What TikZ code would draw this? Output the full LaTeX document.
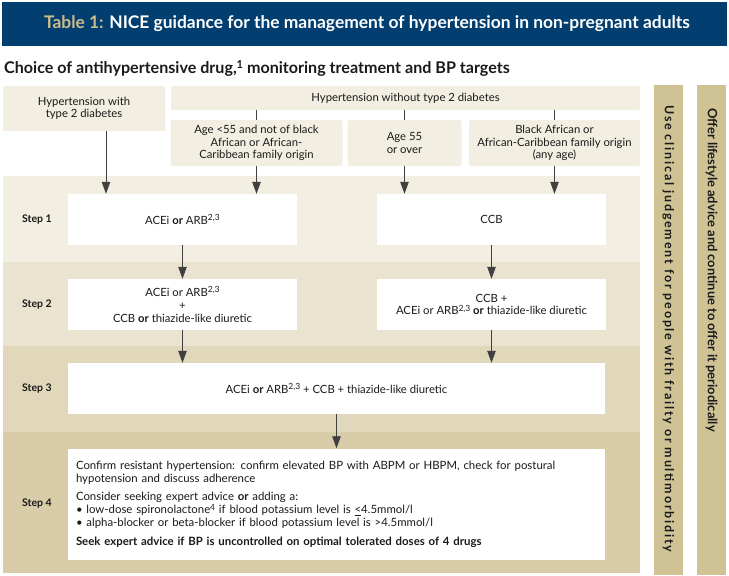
\documentclass[tikz,border=0pt]{standalone}
\usepackage{fontspec}
\setmainfont{Lato}
\usetikzlibrary{arrows.meta}
\definecolor{navy}{HTML}{023E6F}
\definecolor{gold}{HTML}{CDBB8A}
\definecolor{topfill}{HTML}{F2EEE2}
\definecolor{bandA}{HTML}{F2EEE2}
\definecolor{bandB}{HTML}{EAE3CF}
\definecolor{bandC}{HTML}{E1D8BB}
\definecolor{bandD}{HTML}{D8CCA9}
\definecolor{sidebar}{HTML}{CFC396}
\definecolor{ink}{HTML}{1A1A1A}
\newcommand{\fsz}[2]{\fontsize{#1}{#2}\selectfont}
\newcommand{\supx}[1]{\raisebox{0.55ex}{\fontsize{8.5}{8.5}\selectfont #1}}
\newcommand{\supbig}[1]{\raisebox{0.6ex}{\fontsize{11}{11}\selectfont\bfseries #1}}
\tikzset{
  topbox/.style={fill=topfill, rounded corners=1.5pt, align=center, inner sep=2pt, text=ink, font=\fsz{11.3}{12.5}},
  whitebox/.style={fill=white, align=center, inner sep=2pt, text=ink, font=\fsz{11.3}{12.5}},
  steplabel/.style={font=\bfseries\fsz{10.5}{12}, text=ink},
  conn/.style={draw=black!75, line width=0.8pt},
  arr/.style={conn, -{Triangle[width=8.5pt,length=12pt]}},
  vtext/.style={rotate=-90, anchor=west, text=ink, inner sep=0pt}
}
\begin{document}
\begin{tikzpicture}[x=1pt,y=-1pt]
\useasboundingbox (0,0) rectangle (729,576);
% title bar
\fill[navy] (2,2) rectangle (727,46);
\node[font=\bfseries\fsz{17.4}{20}, text=white] (title) at (367,24) {\textcolor{gold}{Table 1:} NICE guidance for the management of hypertension in non-pregnant adults};
\node[anchor=west, font=\bfseries\fsz{16.1}{18}, text=ink, inner sep=0pt] (sub) at (4,68) {Choice of antihypertensive drug,\supbig{1} monitoring treatment and BP targets};
% bands
\fill[bandA] (3,176) rectangle (640,262);
\fill[bandB] (3,262) rectangle (640,346);
\fill[bandC] (3,346) rectangle (640,432);
\fill[bandD] (3,432) rectangle (640,573);
% side bars
\fill[sidebar] (654,85) rectangle (683,575);
\fill[sidebar] (697,85) rectangle (726,575);
\node[vtext, font=\bfseries\fsz{12.5}{14}\addfontfeatures{LetterSpace=14.5}] (v1) at (668.5,105) {Use clinical judgement for people with frailty or multimorbidity};
\node[vtext, font=\bfseries\fsz{12.9}{14}] (v2) at (711.5,108) {Offer lifestyle advice and continue to offer it periodically};
% top boxes
\node[topbox, minimum width=162, minimum height=45] (dia) at (84,108.5) {Hypertension with\\type 2 diabetes};
\node[topbox, minimum width=469, minimum height=24] (wo) at (405.5,98) {Hypertension without type 2 diabetes};
\node[topbox, minimum width=172, minimum height=46] (age1) at (256.5,143) {Age <55 and not of black\\African or African-\\Caribbean family origin};
\node[topbox, minimum width=114, minimum height=46] (age2) at (404.5,143) {Age 55\\or over};
\node[topbox, minimum width=171, minimum height=46] (age3) at (554.5,143) {Black African or\\African-Caribbean family origin\\(any age)};
% step labels
\node[steplabel] (l1) at (37,219.5) {Step 1};
\node[steplabel] (l2) at (37,304.5) {Step 2};
\node[steplabel] (l3) at (37,388.5) {Step 3};
\node[steplabel] (l4) at (37,503.5) {Step 4};
% step boxes
\node[whitebox, minimum width=229, minimum height=51] (s1L) at (182.5,219.5) {ACEi \textbf{or} ARB\supx{2,3}};
\node[whitebox, minimum width=229, minimum height=51] (s1R) at (491.5,219.5) {CCB};
\node[whitebox, minimum width=229, minimum height=51, font=\fsz{11.3}{13}] (s2L) at (182.5,304.5) {ACEi or ARB\supx{2,3}\\+\\CCB \textbf{or} thiazide-like diuretic};
\node[whitebox, minimum width=229, minimum height=51, font=\fsz{11.3}{11.5}] (s2R) at (491.5,304.5) {CCB +\\ACEi or ARB\supx{2,3} \textbf{or} thiazide-like diuretic};
\node[whitebox, minimum width=537, minimum height=51] (s3) at (336.5,388.5) {ACEi \textbf{or} ARB\supx{2,3} + CCB + thiazide-like diuretic};
\node[whitebox, minimum width=537, minimum height=111, text width=521, inner xsep=8pt, align=left, font=\fsz{11.4}{13.2}] (s4) at (336.5,504) {Confirm resistant hypertension: confirm elevated BP with ABPM or HBPM, check for postural\\hypotension and discuss adherence\\[5pt]Consider seeking expert advice \textbf{or} adding a:\\• low-dose spironolactone\supx{4} if blood potassium level is \underline{<}4.5mmol/l\\• alpha-blocker or beta-blocker if blood potassium level is >4.5mmol/l\\[5pt]\textbf{Seek expert advice if BP is uncontrolled on optimal tolerated doses of 4 drugs}};
% connectors
\coordinate (cd) at (106,0);
\draw[arr] (dia.south -| cd) -- (s1L.north -| cd);
\draw[conn] (wo.south -| age1.north) -- (age1.north);
\draw[conn] (wo.south -| age2.north) -- (age2.north);
\draw[conn] (wo.south -| age3.north) -- (age3.north);
\draw[arr] (age1.south) -- (s1L.north -| age1.south);
\draw[arr] (age2.south) -- (s1R.north -| age2.south);
\draw[arr] (age3.south) -- (s1R.north -| age3.south);
\draw[arr] (s1L.south) -- (s2L.north);
\draw[arr] (s1R.south) -- (s2R.north);
\draw[arr] (s2L.south) -- (s3.north -| s2L.south);
\draw[arr] (s2R.south) -- (s3.north -| s2R.south);
\draw[arr] (s3.south) -- (s4.north);
\end{tikzpicture}
\end{document}
